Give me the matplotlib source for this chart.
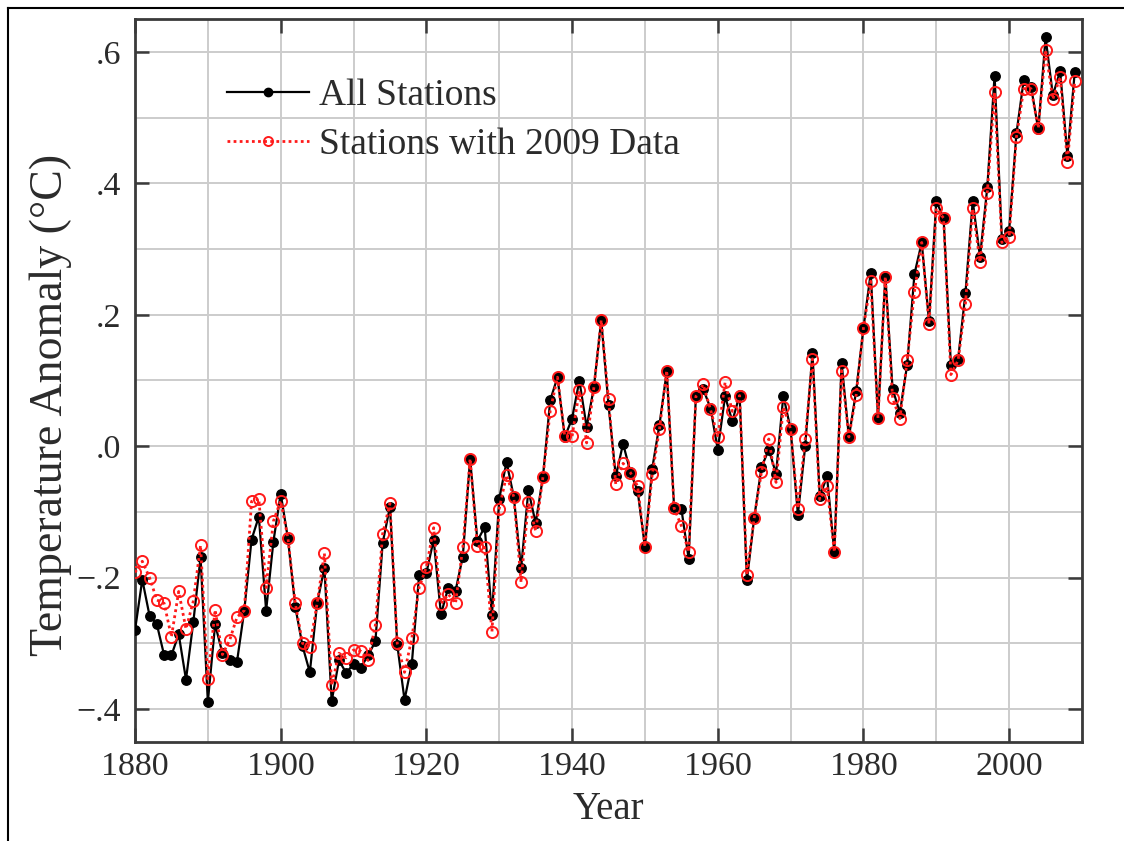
import numpy as np
import matplotlib
matplotlib.use("Agg")
import matplotlib.pyplot as plt
from matplotlib.ticker import MultipleLocator, FuncFormatter
from matplotlib.lines import Line2D

plt.rcParams['font.family'] = ['Liberation Serif', 'DejaVu Serif']

years = np.arange(1880, 2010)

all_stations = [
    -0.280, -0.203, -0.258, -0.271, -0.318, -0.318, -0.286, -0.355, -0.268, -0.169,
    -0.389, -0.271, -0.315, -0.325, -0.328, -0.250, -0.142, -0.107, -0.250, -0.145,
    -0.072, -0.141, -0.244, -0.304, -0.344, -0.239, -0.185, -0.388, -0.326, -0.345,
    -0.331, -0.337, -0.318, -0.297, -0.147, -0.092, -0.302, -0.386, -0.331, -0.196,
    -0.193, -0.142, -0.256, -0.215, -0.220, -0.168, -0.019, -0.144, -0.123, -0.257,
    -0.080, -0.024, -0.077, -0.186, -0.067, -0.117, -0.047, 0.070, 0.105, 0.014,
    0.042, 0.100, 0.029, 0.090, 0.192, 0.063, -0.046, 0.004, -0.039, -0.068,
    -0.153, -0.034, 0.033, 0.114, -0.092, -0.095, -0.171, 0.077, 0.087, 0.058,
    -0.005, 0.076, 0.038, 0.078, -0.204, -0.109, -0.032, -0.005, -0.042, 0.077,
    0.026, -0.104, 0.000, 0.142, -0.076, -0.046, -0.161, 0.127, 0.014, 0.084,
    0.180, 0.264, 0.043, 0.259, 0.087, 0.051, 0.124, 0.262, 0.310, 0.190,
    0.373, 0.347, 0.124, 0.133, 0.233, 0.373, 0.288, 0.394, 0.564, 0.316,
    0.328, 0.476, 0.557, 0.547, 0.482, 0.622, 0.534, 0.571, 0.442, 0.569,
]

stations_2009 = [
    -0.192, -0.175, -0.200, -0.234, -0.239, -0.290, -0.221, -0.278, -0.236, -0.151,
    -0.354, -0.249, -0.317, -0.295, -0.260, -0.250, -0.084, -0.080, -0.215, -0.114,
    -0.083, -0.140, -0.239, -0.300, -0.305, -0.239, -0.163, -0.364, -0.315, -0.322,
    -0.310, -0.312, -0.326, -0.272, -0.133, -0.087, -0.300, -0.344, -0.292, -0.215,
    -0.184, -0.124, -0.240, -0.225, -0.239, -0.154, -0.019, -0.152, -0.154, -0.282,
    -0.095, -0.044, -0.077, -0.207, -0.085, -0.129, -0.047, 0.054, 0.105, 0.015,
    0.015, 0.085, 0.005, 0.090, 0.192, 0.072, -0.058, -0.026, -0.040, -0.061,
    -0.153, -0.043, 0.026, 0.115, -0.094, -0.121, -0.161, 0.076, 0.094, 0.056,
    0.014, 0.097, 0.053, 0.077, -0.196, -0.109, -0.039, 0.011, -0.055, 0.060,
    0.026, -0.095, 0.011, 0.133, -0.081, -0.061, -0.161, 0.115, 0.014, 0.078,
    0.180, 0.251, 0.043, 0.258, 0.073, 0.042, 0.131, 0.235, 0.310, 0.186,
    0.362, 0.347, 0.109, 0.131, 0.217, 0.362, 0.280, 0.386, 0.539, 0.310,
    0.319, 0.470, 0.544, 0.544, 0.484, 0.603, 0.528, 0.562, 0.433, 0.555,
]

x_tick_years = [1880, 1900, 1920, 1940, 1960, 1980, 2000]
y_tick_values = [-0.4, -0.2, 0.0, 0.2, 0.4, 0.6]

text_color = '#2b2b2b'
spine_color = '#3a3a3a'

fig = plt.figure(figsize=(11.24, 8.41), dpi=100)
ax = fig.add_axes([135 / 1124, 1 - 742 / 841, (1082 - 135) / 1124, (742 - 19) / 841])

ax.plot(years, all_stations, color='black', lw=1.6, marker='o', ms=6.8,
        mfc='black', mec='black', label='All Stations', zorder=3)
ax.plot(years, stations_2009, color='#ff1a1a', lw=2.0, ls=(0, (1, 1.2)), marker='o',
        ms=8, mfc='none', mec='#ff1a1a', mew=1.4, label='Stations with 2009 Data',
        zorder=4)

ax.set_xlim(1880, 2010)
ax.set_ylim(-0.45, 0.65)

ax.set_xticks(x_tick_years)
ax.set_yticks(y_tick_values)
ax.xaxis.set_minor_locator(MultipleLocator(10))
ax.yaxis.set_minor_locator(MultipleLocator(0.1))


def fmt_y(v, pos):
    s = f"{abs(v):.1f}".lstrip('0')
    return ('\u2212' + s) if v < -1e-9 else s


ax.yaxis.set_major_formatter(FuncFormatter(fmt_y))

ax.grid(True, which='both', color='#cccccc', lw=1.4, zorder=0)
ax.set_axisbelow(True)

ax.tick_params(which='major', direction='in', length=10, width=1.8, color=spine_color,
               top=True, right=True, labelsize=24.5, labelcolor=text_color)
ax.tick_params(axis='x', which='major', pad=7)
ax.tick_params(axis='y', which='major', pad=10)
ax.tick_params(which='minor', length=0)

for sp in ax.spines.values():
    sp.set_color(spine_color)
    sp.set_linewidth(2.0)

ax.set_xlabel('Year', fontsize=28, color=text_color, labelpad=6)
ax.set_ylabel('Temperature Anomaly (\u00b0C)', fontsize=33, color=text_color)
ax.yaxis.set_label_coords(-0.066, 0.466)

leg = ax.legend(loc='upper left', bbox_to_anchor=(0.097, 0.918), frameon=False,
                fontsize=27, handlelength=2.2, handletextpad=0.25, labelspacing=0.4,
                borderpad=0.0, borderaxespad=0.0)
for t in leg.get_texts():
    t.set_color(text_color)
for h in leg.legend_handles:
    h.set_markersize(6.0 if h.get_color() == 'black' else 6.5)

# thin frame on the upper and left figure edges
fig.add_artist(Line2D([8 / 1124, 1.0], [1 - 8 / 841, 1 - 8 / 841], color='black',
                      lw=1.5, transform=fig.transFigure))
fig.add_artist(Line2D([8 / 1124, 8 / 1124], [0.0, 1 - 8 / 841], color='black',
                      lw=1.5, transform=fig.transFigure))

fig.savefig('out.png', dpi=100, facecolor='white')
